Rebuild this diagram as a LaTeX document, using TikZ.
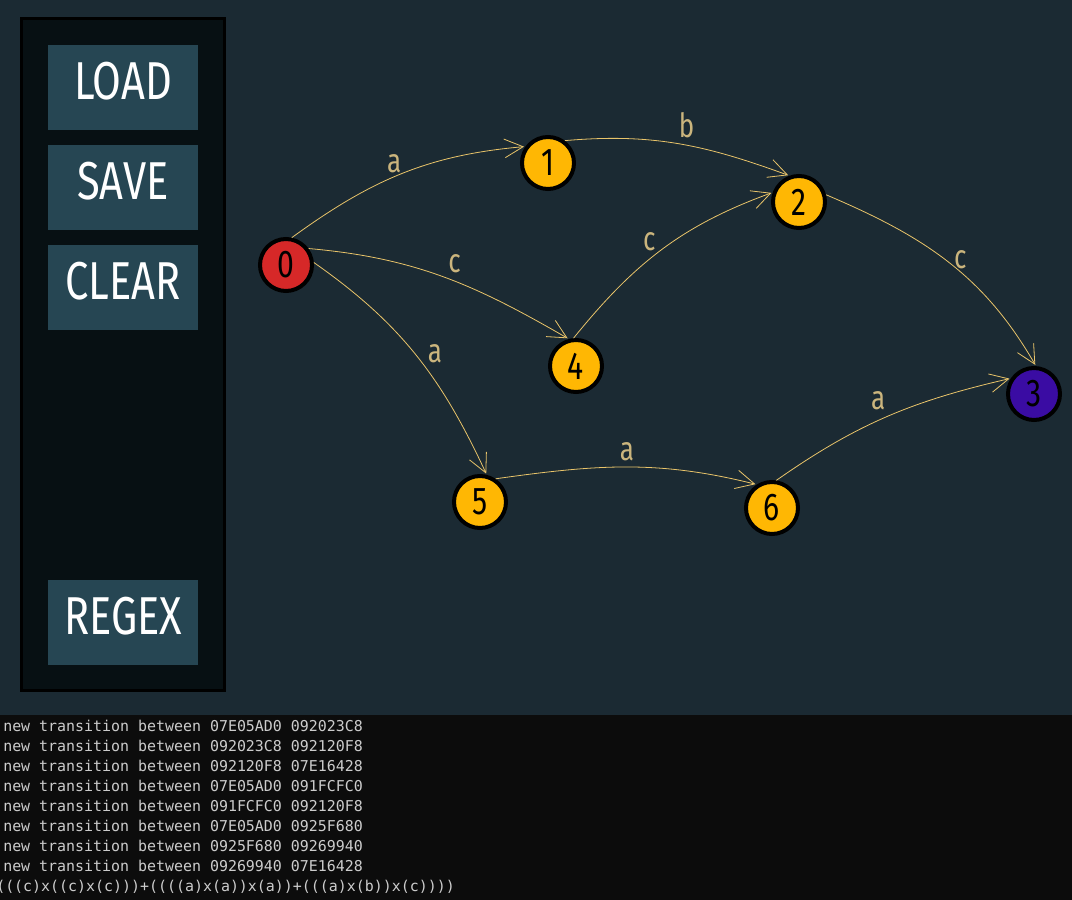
\documentclass[tikz,border=0pt]{standalone}
\usepackage{fontspec}
\setmainfont{Fira Sans}[FakeStretch=0.78]
\newfontfamily\consolefont{DejaVu Sans Mono}
\usetikzlibrary{arrows.meta,automata,positioning}

\definecolor{canvas}{HTML}{1B2A33}
\definecolor{panelfill}{HTML}{071013}
\definecolor{btnfill}{HTML}{264653}
\definecolor{stateyellow}{HTML}{FFB703}
\definecolor{statered}{HTML}{D62828}
\definecolor{statepurple}{HTML}{3A0CA3}
\definecolor{edgeyellow}{HTML}{E9C46A}
\definecolor{labelsand}{HTML}{CBB57D}
\definecolor{consolebg}{HTML}{0C0C0C}
\definecolor{consoletext}{HTML}{CCCCCC}

\tikzset{
  button/.style={fill=btnfill,minimum width=112.5pt,minimum height=63.75pt,
    text=white,text depth=10pt,font=\fontsize{40}{40}\selectfont},
  tlabel/.style={text=labelsand,inner sep=4.5pt,font=\fontsize{25}{25}\selectfont},
  logline/.style={anchor=base west,inner sep=0pt,text=consoletext,
    font=\consolefont\fontsize{11.2}{15}\selectfont},
}

\begin{document}
\begin{tikzpicture}[shorten >=1pt,on grid,auto,
    every state/.style={draw=black,line width=3pt,fill=stateyellow,
      minimum size=39pt,inner sep=0pt,font=\fontsize{29}{29}\selectfont},
    every edge/.style={draw=edgeyellow,line width=0.6pt},
    >={Straight Barb[length=14pt,width=14pt]}]
  \useasboundingbox (0,0) rectangle (804pt,675pt);
  \fill[canvas] (0,0) rectangle (804pt,675pt);

  % side panel
  \draw[line width=2.25pt,fill=panelfill] (16.1pt,661.1pt) rectangle (168.4pt,157.1pt);
  \node[button] (load) at (92.25pt,609.4pt) {LOAD};
  \node[button] (save) [below=75pt of load] {SAVE};
  \node[button] (clear) [below=75pt of save] {CLEAR};
  \node[button] (regexbtn) [below=251.25pt of clear] {REGEX};

  % automaton
  \node[state,fill=statered] (n0) at (214.5pt,476.25pt) {0};
  \node[state] (n1) [above right=76.5pt and 196.5pt of n0] {1};
  \node[state] (n2) [below right=29.25pt and 188.25pt of n1] {2};
  \node[state] (n4) [below right=75.75pt and 217.5pt of n0] {4};
  \node[state] (n5) [below right=177.75pt and 145.5pt of n0] {5};
  \node[state] (n6) [below right=4.5pt and 219pt of n5] {6};
  \node[state,fill=statepurple] (n3) [below right=144pt and 176.25pt of n2] {3};
  \path[->]
  (n0.78) edge[out=36,in=185] node[tlabel,xshift=4.5pt,yshift=-4.5pt] {a} (n1.144)
  (n0.36) edge[out=-5,in=150] node[tlabel,xshift=-1.5pt,yshift=-2pt] {c} (n4.105)
  (n0.5)  edge[out=-35,in=115] node[tlabel,xshift=4pt,yshift=-10.5pt] {a} (n5.76)
  (n1.53) edge[out=5,in=160] node[tlabel,xshift=-5pt] {b} (n2.110)
  (n4.95) edge[out=51,in=200] node[tlabel,yshift=-6pt] {c} (n2.160)
  (n2.15) edge[out=-23,in=120] node[tlabel,yshift=-10pt] {c} (n3.86)
  (n5.56) edge[out=8,in=166] node[tlabel] {a} (n6.123)
  (n6.81) edge[out=35,in=193] node[tlabel,xshift=3pt] {a} (n3.146);

  % console
  \fill[consolebg] (0,0) rectangle (804pt,138.75pt);
  \foreach \msg [count=\i] in {new transition between 07E05AD0 092023C8,
      new transition between 092023C8 092120F8,
      new transition between 092120F8 07E16428,
      new transition between 07E05AD0 091FCFC0,
      new transition between 091FCFC0 092120F8,
      new transition between 07E05AD0 0925F680,
      new transition between 0925F680 09269940,
      new transition between 09269940 07E16428}
    \node[logline] (log\i) at (2.25pt,{126pt-(\i-1)*15pt}) {\msg};
  \node[logline] (regex) at (-3pt,6pt) {(((c)x((c)x(c)))+((((a)x(a))x(a))+(((a)x(b))x(c))))};
\end{tikzpicture}
\end{document}
